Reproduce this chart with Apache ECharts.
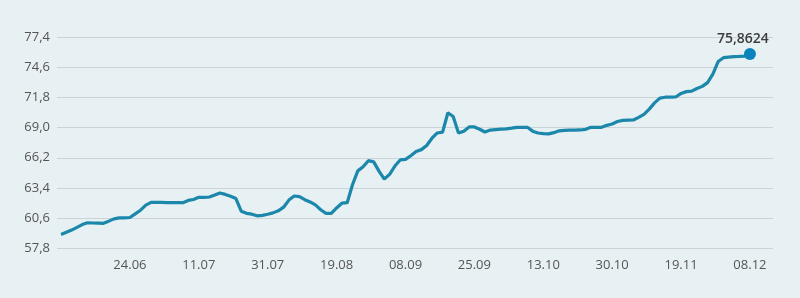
<!DOCTYPE html>
<html>
<head>
<meta charset="utf-8">
<script src="https://cdn.jsdelivr.net/npm/echarts@6/dist/echarts.min.js"></script>
<style>
html,body{margin:0;padding:0;background:#e7f0f3;}
#chart{width:800px;height:298px;}
</style>
</head>
<body>
<div id="chart"></div>
<script>
const values = [
59.06,59.26,59.47,59.72,59.98,60.15,60.13,60.12,60.10,60.30,
60.51,60.61,60.60,60.64,60.98,61.32,61.79,62.05,62.04,62.04,
62.03,62.03,62.02,62.02,62.23,62.32,62.52,62.52,62.55,62.73,
62.92,62.79,62.61,62.40,61.23,61.03,60.95,60.80,60.84,60.94,
61.07,61.26,61.60,62.26,62.64,62.59,62.30,62.09,61.81,61.36,
61.03,61.03,61.53,61.97,62.02,63.69,64.98,65.36,65.93,65.82,
64.96,64.22,64.66,65.43,66.00,66.05,66.39,66.78,66.96,67.35,
68.02,68.51,68.59,70.39,70.04,68.51,68.68,69.07,69.07,68.86,
68.60,68.78,68.82,68.86,68.90,68.96,69.03,69.04,69.04,68.68,
68.51,68.45,68.43,68.54,68.71,68.76,68.77,68.78,68.79,68.85,
69.04,69.04,69.04,69.22,69.35,69.58,69.68,69.70,69.72,69.96,
70.25,70.73,71.31,71.75,71.84,71.85,71.86,72.19,72.36,72.41,
72.65,72.85,73.20,73.99,75.16,75.52,75.58,75.62,75.64,75.67,
75.8624
];
const tickIndices = [13,26,39,52,65,78,91,104,117,130];
const tickLabels = ['24.06','11.07','31.07','19.08','08.09','25.09','13.10','30.10','19.11','08.12'];
const yTicks = [57.8,60.6,63.4,66.2,69.0,71.8,74.6,77.4];
const lastLabel = '75,8624';

const chart = echarts.init(document.getElementById('chart'), null, {renderer:'canvas'});
const lineData = values.map((v,i)=>[i,v]);
const last = values.length-1;
chart.setOption({
  backgroundColor:'#e7f0f3',
  animation:false,
  grid:{left:57,right:27,top:37.5,height:210.5,containLabel:false},
  xAxis:{
    type:'value', min:-0.76, max:134.35,
    axisLine:{show:false}, axisTick:{show:false}, splitLine:{show:false},
    axisLabel:{
      customValues:tickIndices,
      formatter:(v)=>{const k=tickIndices.indexOf(Math.round(v));return k>=0?tickLabels[k]:'';},
      color:'#555', fontSize:13, fontFamily:'Open Sans', margin:11
    }
  },
  yAxis:{
    type:'value', min:yTicks[0], max:yTicks[yTicks.length-1], interval:2.8,
    axisLine:{show:false}, axisTick:{show:false},
    splitLine:{show:true,lineStyle:{color:'#cbd3d6',width:1}},
    axisLabel:{
      formatter:(v)=>v.toFixed(1).replace('.',','),
      color:'#555', fontSize:13, fontFamily:'Open Sans', margin:7
    }
  },
  series:[
    {type:'line', data:lineData, showSymbol:false, symbol:'none',
     lineStyle:{color:'#1a87ab',width:3.2}, z:2},
    {type:'scatter', data:[[last, values[last]]], symbol:'circle', symbolSize:12,
     itemStyle:{color:'#0b84bd',opacity:1}, z:3,
     label:{show:true, formatter:()=>lastLabel, position:'top', offset:[-7,3],
       color:'#3d3d3d', fontSize:14, fontFamily:'Open Sans', fontWeight:600}}
  ]
});
</script>
</body>
</html>
